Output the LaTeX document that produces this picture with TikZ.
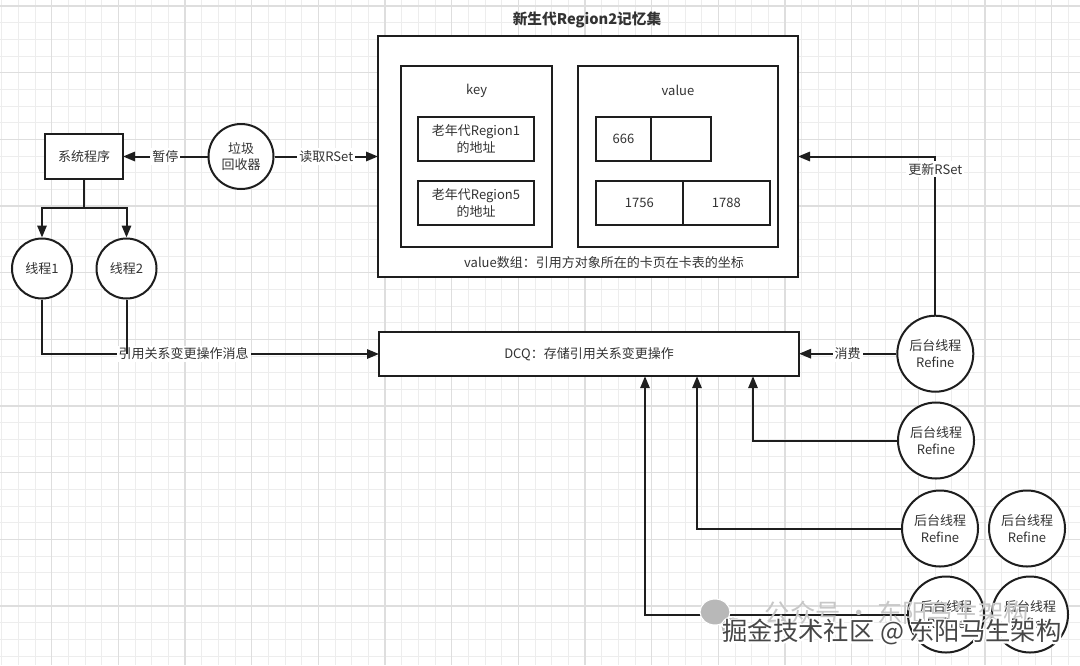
\documentclass[tikz,border=0pt]{standalone}
\usepackage{fontspec}
\setmainfont{Noto Sans CJK SC}
\usetikzlibrary{arrows.meta}
\def\u{0.75pt}
\definecolor{ink}{HTML}{1E1E1E}
\definecolor{txt}{HTML}{333333}
\tikzset{
  gminor/.style={draw=black!7, line width=0.7pt},
  gmajor/.style={draw=black!13, line width=0.8pt},
  box/.style={draw=ink, line width=1.5pt, fill=white, inner sep=0pt, outer sep=0pt, text=txt, align=center, font=\fontsize{9.75}{12.5}\selectfont},
  circ/.style={circle, draw=ink, line width=1.5pt, fill=white, inner sep=0pt, text=txt, align=center, font=\fontsize{9.75}{12.5}\selectfont},
  plain/.style={text=txt, align=center, inner sep=0pt, font=\fontsize{9.75}{12.5}\selectfont},
  lbl/.style={fill=white, text=txt, inner sep=1.5pt, font=\fontsize{9.75}{12.5}\selectfont},
  conn/.style={draw=ink, line width=1.5pt},
  arr/.style={conn, -{Triangle[length=9pt,width=7pt]}},
  wmark/.style={inner sep=0pt, font=\fontsize{19}{22}\selectfont},
}
\begin{document}
\begin{tikzpicture}[x=0.75pt, y=-0.75pt]
\useasboundingbox (0,0) rectangle (1080,665);
\fill[white] (0,0) rectangle (1080,665);
% grid
\foreach \i in {0,...,64} \draw[gminor] ({1.67+16.667*\i},0) -- ({1.67+16.667*\i},665);
\foreach \j in {0,...,39} \draw[gminor] (0,{6+16.667*\j}) -- (1080,{6+16.667*\j});
\foreach \i in {0,...,15} \draw[gmajor] ({51.67+66.667*\i},0) -- ({51.67+66.667*\i},665);
\foreach \j in {0,...,9} \draw[gmajor] (0,{6+66.667*\j}) -- (1080,{6+66.667*\j});

% remembered set
\node[plain, font=\bfseries\fontsize{11}{13}\selectfont] (title) at (587,20) {新生代Region2记忆集};
\node[box, minimum width=420*\u, minimum height=241*\u] (outer) at (588,156.5) {};
\node[box, minimum width=151*\u, minimum height=181.6*\u] (keybox) at (476.2,156.5) {};
\node[plain] (keyl) at (476.7,90.7) {key};
\node[box, minimum width=116.6*\u, minimum height=44.3*\u] (k1) at (476,138.85) {老年代Region1\\的地址};
\node[box, minimum width=116.6*\u, minimum height=44.3*\u] (k2) at (476,202.85) {老年代Region5\\的地址};
\node[box, minimum width=200.6*\u, minimum height=181.6*\u] (valbox) at (678,156.5) {};
\node[plain] (vall) at (678,90.7) {value};
\node[box, minimum width=55*\u, minimum height=44.3*\u] (v1) at (623.5,138.85) {666};
\node[box, minimum width=60*\u, minimum height=44.3*\u] (v2) at (681,138.85) {};
\node[box, minimum width=86.7*\u, minimum height=44.3*\u] (v3) at (639.35,202.85) {1756};
\node[box, minimum width=87.3*\u, minimum height=44.3*\u] (v4) at (726.35,202.85) {1788};
\node[plain] (note) at (604,262.3) {value数组：引用方对象所在的卡页在卡表的坐标};

% DCQ
\node[box, minimum width=420*\u, minimum height=44.3*\u] (dcq) at (589,354) {DCQ：存储引用关系变更操作};

% left side
\node[box, minimum width=78*\u, minimum height=45*\u] (sys) at (84,156.5) {系统程序};
\node[circ, minimum size=65*\u] (gc) at (241,156.5) {垃圾\\回收器};
\node[circ, minimum size=60*\u] (t1) at (42,268.5) {线程1};
\node[circ, minimum size=60*\u] (t2) at (126.5,268.5) {线程2};

\draw[arr] (gc.west) -- node[lbl]{暂停} (sys.east);
\draw[arr] (gc.east) -- node[lbl]{读取RSet} (outer.west);
\coordinate (sp) at (84,208);
\draw[arr] (sys.south) -- (sp) -| (t1.north);
\draw[arr] (sp) -| (t2.north);
\draw[arr] (t1.south) |- node[lbl, pos=0.71]{引用关系变更操作消息} (dcq.west);
\draw[conn] (t2.south) -- (t2.south |- dcq.west);

% refine threads
\node[circ, minimum size=76*\u] (r1) at (935.3,353.7) {后台线程\\Refine};
\node[circ, minimum size=76*\u] (r2) at (936,440.5) {后台线程\\Refine};
\node[circ, minimum size=76*\u] (r3) at (940,528.5) {后台线程\\Refine};
\node[circ, minimum size=76*\u] (r4) at (1027,528.5) {后台线程\\Refine};
\node[circ, minimum size=76*\u] (r5) at (946,614.5) {后台线程\\Refine};
\node[circ, minimum size=76*\u] (r6) at (1030,614.5) {后台线程\\Refine};

\draw[arr] (r1.west) -- node[lbl]{消费} (dcq.east |- r1.west);
\draw[arr] (r1.north) |- node[lbl, pos=0.46]{更新RSet} (outer.east);
\coordinate (c1) at (753,0);
\coordinate (c2) at (697,0);
\coordinate (c3) at (645,0);
\draw[arr] (r2.west) -| (c1 |- dcq.south);
\draw[arr] (r3.west) -| (c2 |- dcq.south);
\draw[arr] (r5.west) -| (c3 |- dcq.south);

% watermarks
\fill[black!28, draw=white, line width=0.8pt] (715,612) ellipse [x radius=15, y radius=13];
\fill[black!28, draw=white, line width=0.8pt] (733,627) ellipse [x radius=12, y radius=10];
\node[wmark, text=black!22] (wm1) at (897,613) {公众号 · 东阳马生架构};
\node[wmark, text=black!72] (wm2) at (892,632) {\special{pdf:literal direct 2 Tr 2.6 w 1 j 1 1 1 RG}掘金技术社区 @ 东阳马生架构};
\node[wmark, text=black!72] at (wm2) {掘金技术社区 @ 东阳马生架构};
\end{tikzpicture}
\end{document}
